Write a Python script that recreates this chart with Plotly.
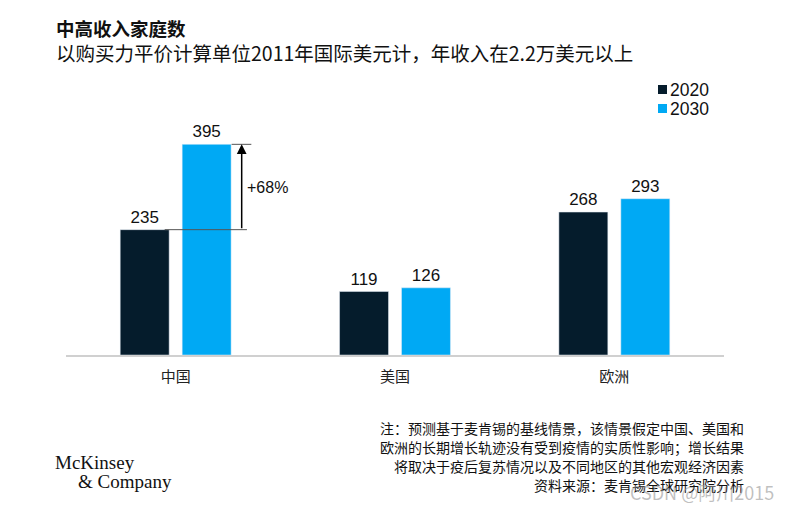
import plotly.graph_objects as go

categories = ["中国", "美国", "欧洲"]
series_names = ["2020", "2030"]
values_2020 = [235, 119, 268]
values_2030 = [395, 126, 293]
growth_label = "+68%"

title = "中高收入家庭数"
subtitle = "以购买力平价计算单位2011年国际美元计，年收入在2.2万美元以上"
notes = [
    "注：预测基于麦肯锡的基线情景，该情景假定中国、美国和",
    "欧洲的长期增长轨迹没有受到疫情的实质性影响；增长结果",
    "将取决于疫后复苏情况以及不同地区的其他宏观经济因素",
    "资料来源：麦肯锡全球研究院分析",
]

DARK = "#051c2c"
LIGHT = "#00a9f4"
colors = [DARK, LIGHT]
CJK = "Noto Sans CJK SC"
NUM = "Liberation Sans, Arial"

OFF = 8  # page body margin
W, H = 789 - 2 * OFF, 512 - 2 * OFF
# plot area in window pixels: x 66..724, y 115..355
L = 66 - OFF
R = W - (724 - OFF)
T = 115 - OFF
B = H - (355 - OFF)
pw, ph = W - L - R, H - T - B


def px(xp):
    return (xp - OFF - L) / pw


def py(yp):
    return (H - B - (yp - OFF)) / ph


fig = go.Figure()
for name, vals, col in zip(series_names, [values_2020, values_2030], colors):
    fig.add_trace(go.Bar(x=categories, y=vals, name=name, marker_color=col,
                         text=vals, textposition="outside", cliponaxis=False,
                         textfont=dict(family=NUM, size=17, color="#111"), showlegend=False))

# custom compact legend (top right)
for i, (name, col) in enumerate(zip(series_names, colors)):
    yc = 89.5 + 19 * i
    fig.add_shape(type="rect", xref="paper", yref="paper",
                  x0=px(658), x1=px(667), y0=py(yc + 4.5), y1=py(yc - 4.5),
                  fillcolor=col, line=dict(width=0))
    fig.add_annotation(x=px(668), y=py(yc), xref="paper", yref="paper", text=name,
                       showarrow=False, xanchor="left", yanchor="middle",
                       font=dict(family=NUM, size=17.5, color="#111"))

# growth annotation for first category
v0, v1 = values_2020[0], values_2030[0]
line_style = dict(color="#555", width=1)
fig.add_shape(type="line", xref="x", yref="y", x0=-0.05, x1=0.325, y0=v0, y1=v0, line=line_style)
fig.add_shape(type="line", xref="x", yref="y", x0=0.255, x1=0.345, y0=v1, y1=v1, line=line_style)
fig.add_annotation(x=0.301, y=v1, ax=0.301, ay=v0, xref="x", yref="y", axref="x", ayref="y",
                   text="", showarrow=True, arrowhead=2, arrowsize=1.3, arrowwidth=1.5,
                   arrowcolor="#000")
fig.add_annotation(x=0.315, y=(v0 + v1) / 2, xref="x", yref="y", text=growth_label,
                   showarrow=False, xanchor="left", yanchor="middle",
                   font=dict(family=NUM, size=16, color="#111"))

fig.add_annotation(x=px(54), y=py(28), xref="paper", yref="paper", text="<b>" + title + "</b>",
                   showarrow=False, xanchor="left", yanchor="middle",
                   font=dict(family=CJK, size=18.5, color="#111"))
fig.add_annotation(x=px(54), y=py(52), xref="paper", yref="paper", text=subtitle,
                   showarrow=False, xanchor="left", yanchor="middle",
                   font=dict(family=CJK + ", " + NUM, size=19.5, color="#111"))

for i, line in enumerate(notes):
    fig.add_annotation(x=px(746), y=py(428 + 19 * i), xref="paper", yref="paper", text=line,
                       showarrow=False, xanchor="right", yanchor="middle",
                       font=dict(family=CJK, size=14, color="#111"))

fig.add_annotation(x=px(53), y=py(462), xref="paper", yref="paper", text="McKinsey",
                   showarrow=False, xanchor="left", yanchor="middle",
                   font=dict(family="Liberation Serif", size=19, color="#111"))
fig.add_annotation(x=px(76), y=py(481), xref="paper", yref="paper", text="&amp; Company",
                   showarrow=False, xanchor="left", yanchor="middle",
                   font=dict(family="Liberation Serif", size=19, color="#111"))
fig.add_annotation(x=px(776), y=py(492), xref="paper", yref="paper", text="CSDN @阿川2015",
                   showarrow=False, xanchor="right", yanchor="middle",
                   font=dict(family=CJK, size=18, color="rgba(150,150,150,0.6)"))

fig.update_layout(
    width=W, height=H,
    margin=dict(l=L, r=R, t=T, b=B, pad=0),
    paper_bgcolor="white", plot_bgcolor="white",
    barmode="group", bargap=0.435, bargroupgap=0.21,
    showlegend=False,
    xaxis=dict(range=[-0.5, 2.5], showline=True, linecolor="#d0d0d0", linewidth=1.5,
               ticks="", showgrid=False, zeroline=False, ticklabelstandoff=7,
               tickfont=dict(family=CJK, size=15, color="#222")),
    yaxis=dict(range=[0, 450], visible=False, showgrid=False, zeroline=False),
)

fig.write_html("out.html")
